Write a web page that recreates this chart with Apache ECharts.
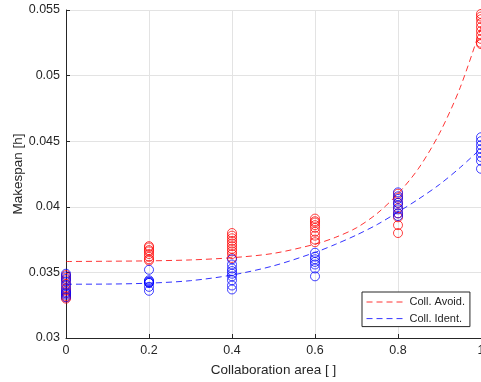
<!DOCTYPE html>
<html><head><meta charset="utf-8">
<script src="https://cdn.jsdelivr.net/npm/echarts@6/dist/echarts.min.js"></script>
<style>html,body{margin:0;padding:0;background:#fff}#c{width:481px;height:382px}</style>
</head><body><div id="c"></div>
<script>
// x positions of the experiments
const xTicks = [0, 0.2, 0.4, 0.6, 0.8, 1];

// Collision avoidance samples (red circles), per collaboration area
const avoid_00 = [0.0348, 0.0346, 0.0344, 0.0341, 0.0338, 0.0336, 0.0334, 0.0332, 0.0331, 0.0330];
const avoid_02 = [0.0370, 0.0369, 0.0367, 0.0366, 0.0364, 0.0362, 0.0360, 0.0359];
const avoid_04 = [0.0380, 0.0378, 0.0376, 0.0374, 0.0372, 0.0370, 0.0368, 0.0366, 0.0364, 0.0361];
const avoid_06 = [0.0391, 0.0389, 0.0388, 0.0386, 0.0384, 0.0381, 0.0378, 0.0375, 0.0373];
const avoid_08 = [0.0410, 0.0407, 0.0403, 0.0399, 0.0395, 0.0392, 0.0386, 0.0380];
const avoid_10 = [0.0547, 0.0545, 0.0543, 0.0540, 0.0537, 0.0534, 0.0531, 0.0528, 0.0525, 0.0524];

// Collision identification samples (blue circles)
const ident_00 = [0.0349, 0.0347, 0.0345, 0.0343, 0.0340, 0.0337, 0.0335, 0.0334, 0.0333, 0.0331];
const ident_02 = [0.0352, 0.0344, 0.0343, 0.0343, 0.0342, 0.0342, 0.0339, 0.0336];
const ident_04 = [0.0360, 0.0356, 0.0353, 0.0351, 0.0349, 0.0347, 0.0344, 0.0340, 0.0337];
const ident_06 = [0.0365, 0.0362, 0.0360, 0.0358, 0.0356, 0.0353, 0.0347];
const ident_08 = [0.0411, 0.0408, 0.0406, 0.0403, 0.0401, 0.0398, 0.0395, 0.0393];
const ident_10 = [0.0453, 0.0450, 0.0447, 0.0444, 0.0441, 0.0438, 0.0435, 0.0429];

// Fitted dashed curves
const curveX     = [0, 0.1, 0.2, 0.3, 0.4, 0.5, 0.6, 0.65, 0.7, 0.75, 0.8, 0.85, 0.9, 0.95, 1];
const avoidCurve = [0.03583, 0.03585, 0.03588, 0.03595, 0.03612, 0.03645, 0.03715, 0.03768, 0.03840, 0.03950, 0.04100, 0.04295, 0.04560, 0.04910, 0.05370];
const identCurve = [0.03410, 0.03411, 0.03418, 0.03437, 0.03480, 0.03550, 0.03652, 0.03715, 0.03785, 0.03865, 0.03960, 0.04060, 0.04170, 0.04300, 0.04445];

const avoidGroups = [avoid_00, avoid_02, avoid_04, avoid_06, avoid_08, avoid_10];
const identGroups = [ident_00, ident_02, ident_04, ident_06, ident_08, ident_10];

function pts(groups) {
  const out = [];
  groups.forEach((g, i) => g.forEach(v => out.push([xTicks[i], v])));
  return out;
}
function curve(ys) { return curveX.map((x, i) => [x, ys[i]]); }

const RED = '#ff0000', BLUE = '#0000ff', INK = '#262626';
const FONT = '"Liberation Sans", Arial, sans-serif';

const chart = echarts.init(document.getElementById('c'), null, {renderer: 'canvas'});
chart.setOption({
  animation: false,
  backgroundColor: '#fff',
  textStyle: {fontFamily: FONT},
  grid: {left: 66, right: 0, top: 10, bottom: 44, containLabel: false, outerBoundsMode: 'none'},
  xAxis: {
    type: 'value', min: 0, max: 1, interval: 0.2,
    name: 'Collaboration area [ ]', nameLocation: 'middle', nameGap: 25, nameMoveOverlap: false,
    nameTextStyle: {color: INK, fontSize: 13.5, fontFamily: FONT},
    axisLine: {lineStyle: {color: INK, width: 1}},
    axisTick: {inside: true, length: 4, lineStyle: {color: INK}},
    axisLabel: {color: INK, fontSize: 12.5, margin: 6, fontFamily: FONT, hideOverlap: false},
    splitLine: {show: true, lineStyle: {color: '#e3e3e3', width: 1}}
  },
  yAxis: {
    type: 'value', min: 0.03, max: 0.055, interval: 0.005,
    name: 'Makespan [h]', nameLocation: 'middle', nameGap: 41, nameMoveOverlap: false,
    nameTextStyle: {color: INK, fontSize: 13.5, fontFamily: FONT},
    axisLine: {show: true, lineStyle: {color: INK, width: 1}},
    axisTick: {show: true, inside: true, length: 4, lineStyle: {color: INK}},
    axisLabel: {color: INK, fontSize: 12.5, margin: 6, fontFamily: FONT,
      formatter: v => String(+v.toFixed(4))},
    splitLine: {show: true, lineStyle: {color: '#e3e3e3', width: 1}}
  },
  legend: {
    data: ['Coll. Avoid.', 'Coll. Ident.'],
    orient: 'vertical', left: 362, top: 292,
    padding: [4, 5, 2, 4], itemGap: 4.6, itemWidth: 38, itemHeight: 12,
    backgroundColor: '#fff', borderColor: INK, borderWidth: 1, borderRadius: 0,
    itemStyle: {opacity: 0},
    lineStyle: {width: 1, type: [6, 4]},
    textStyle: {color: INK, fontSize: 11, fontFamily: FONT, lineHeight: 12}
  },
  series: [
    {name: 'avoidPts', type: 'scatter', data: pts(avoidGroups), symbol: 'circle', symbolSize: 9, clip: false,
     itemStyle: {color: 'transparent', borderColor: RED, borderWidth: 1, opacity: 0.75}},
    {name: 'identPts', type: 'scatter', data: pts(identGroups), symbol: 'circle', symbolSize: 9, clip: false,
     itemStyle: {color: 'transparent', borderColor: BLUE, borderWidth: 1, opacity: 0.75}},
    {name: 'Coll. Avoid.', type: 'line', data: curve(avoidCurve), symbol: 'none', smooth: 0.3,
     lineStyle: {color: RED, width: 1, type: [6, 4], opacity: 0.8}, itemStyle: {color: RED}},
    {name: 'Coll. Ident.', type: 'line', data: curve(identCurve), symbol: 'none', smooth: 0.3,
     lineStyle: {color: BLUE, width: 1, type: [6, 4], opacity: 0.8}, itemStyle: {color: BLUE}}
  ]
});
</script>
</body></html>
